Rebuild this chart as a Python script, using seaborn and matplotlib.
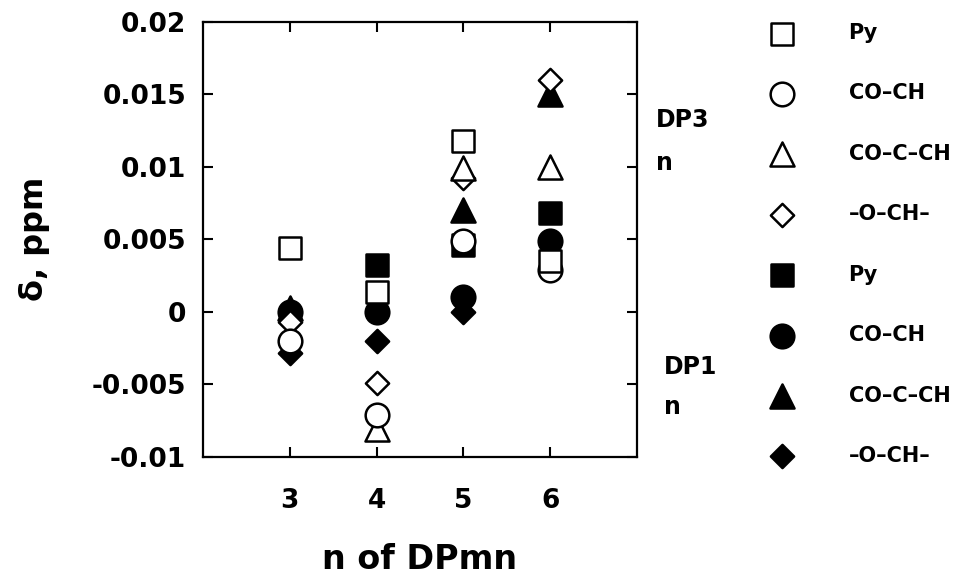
import numpy as np
import pandas as pd
import matplotlib
matplotlib.use("Agg")
import matplotlib.pyplot as plt
import seaborn as sns

# n of DPmn on the x axis
n_values = [3, 4, 5, 6]
group_labels = ["Py", "CO–CH", "CO–C–CH", "–O–CH–"]

# DP3n series (open markers), chemical shift difference in ppm
dp3_py = [0.0044, 0.0014, 0.0118, 0.0035]
dp3_coch = [-0.0020, -0.0071, 0.0049, 0.0029]
dp3_cocch = [np.nan, -0.0081, 0.0099, 0.0100]
dp3_och = [-0.0007, -0.0049, 0.0092, 0.0160]

# DP1n series (filled markers)
dp1_py = [np.nan, 0.0032, 0.0046, 0.0068]
dp1_coch = [0.0000, 0.0000, 0.0010, 0.0049]
dp1_cocch = [0.0003, np.nan, 0.0070, 0.0150]
dp1_och = [-0.0028, -0.0020, 0.0000, np.nan]

x_ticks = [3, 4, 5, 6]
y_ticks = [-0.01, -0.005, 0, 0.005, 0.01, 0.015, 0.02]
y_tick_labels = ["-0.01", "-0.005", "0", "0.005", "0.01", "0.015", "0.02"]

series = {
    ("DP3n", "Py"): dp3_py,
    ("DP3n", "CO–CH"): dp3_coch,
    ("DP3n", "CO–C–CH"): dp3_cocch,
    ("DP3n", "–O–CH–"): dp3_och,
    ("DP1n", "Py"): dp1_py,
    ("DP1n", "CO–CH"): dp1_coch,
    ("DP1n", "CO–C–CH"): dp1_cocch,
    ("DP1n", "–O–CH–"): dp1_och,
}

rows = []
for (family, group), values in series.items():
    for n, v in zip(n_values, values):
        rows.append({"family": family, "group": group, "n": n, "delta": v})
df = pd.DataFrame(rows).dropna()

sns.set_style("ticks")
plt.rcParams["font.family"] = ["DejaVu Sans"]
plt.rcParams["font.weight"] = "bold"
plt.rcParams["axes.labelweight"] = "bold"
for key in ["text.color", "axes.labelcolor", "xtick.color", "ytick.color",
            "axes.edgecolor"]:
    plt.rcParams[key] = "black"

fig = plt.figure(figsize=(9.56, 5.75), dpi=100)
ax = fig.add_axes([0.2123, 0.2052, 0.4540, 0.7571])

marker_of = {"Py": "s", "CO–CH": "o", "CO–C–CH": "^", "–O–CH–": "D"}
size_of = {"Py": 272, "CO–CH": 290, "CO–C–CH": 300, "–O–CH–": 140}
fill_of = {"DP3n": "white", "DP1n": "black"}

# filled markers first, open markers on top of them
handles = {}
draw_order = [(f, g) for f in ["DP1n", "DP3n"] for g in reversed(group_labels)]
for z, (family, group) in enumerate(draw_order):
    sub = df[(df["family"] == family) & (df["group"] == group)]
    sns.scatterplot(
        data=sub, x="n", y="delta", ax=ax,
        marker=marker_of[group], s=size_of[group],
        color=fill_of[family], edgecolor="black", linewidth=1.8,
        zorder=3 + z, clip_on=False,
    )
    handles[(family, group)] = ax.collections[-1]

ax.set_xlim(2, 7)
ax.set_ylim(-0.01, 0.02)
ax.set_xticks(x_ticks)
ax.set_xticklabels([str(t) for t in x_ticks])
ax.set_yticks(y_ticks)
ax.set_yticklabels(y_tick_labels)
ax.tick_params(direction="in", top=True, right=True, length=7, width=1.5,
               labelsize=19, colors="black")
ax.tick_params(axis="x", pad=22)
ax.tick_params(axis="y", pad=12)
for s in ax.spines.values():
    s.set_linewidth(1.6)
    s.set_color("black")

ax.set_xlabel("n of DPmn", fontsize=24, fontweight="bold", labelpad=21)
ax.set_ylabel("δ, ppm", fontsize=23, fontweight="bold", labelpad=30)

legend_keys = [(f, g) for f in ["DP3n", "DP1n"] for g in group_labels]
fig.legend(
    [handles[k] for k in legend_keys], [k[1] for k in legend_keys],
    loc="upper left", bbox_to_anchor=(761 / 956, 1 - 23 / 575),
    frameon=False, prop={"weight": "bold", "size": 15},
    labelspacing=1.94, handlelength=2.0, handletextpad=2.2, borderpad=0,
    borderaxespad=0,
)

fig.text(656 / 956, 1 - 120 / 575, "DP3", fontsize=17, fontweight="bold",
         va="center", ha="left")
fig.text(656 / 956, 1 - 163 / 575, "n", fontsize=17, fontweight="bold",
         va="center", ha="left")
fig.text(664 / 956, 1 - 367 / 575, "DP1", fontsize=17, fontweight="bold",
         va="center", ha="left")
fig.text(664 / 956, 1 - 407 / 575, "n", fontsize=17, fontweight="bold",
         va="center", ha="left")

fig.savefig("out.png", dpi=100)
